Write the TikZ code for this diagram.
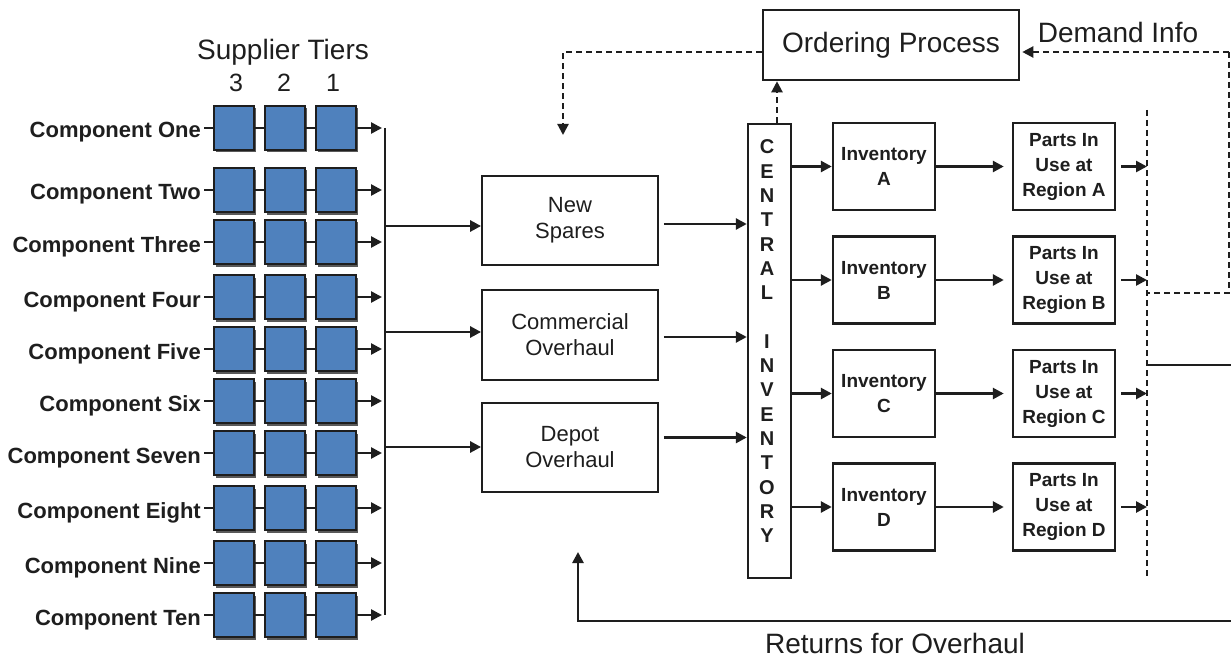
\documentclass[tikz,border=0pt]{standalone}
\usepackage{fontspec}
\setmainfont{Liberation Sans}
\usetikzlibrary{arrows.meta,shadows}
\definecolor{tierblue}{HTML}{4F81BD}
\definecolor{ink}{HTML}{1E1E1E}
\begin{document}
\begin{tikzpicture}[x=1bp,y=-1bp,
  tier/.style={draw=ink, line width=1.4bp, fill=tierblue, minimum width=40bp, minimum height=44bp, inner sep=0pt,
    drop shadow={shadow xshift=2bp, shadow yshift=-2.5bp, fill=black!65, opacity=1}},
  thinwire/.style={draw=ink, line width=2.2bp},
  wire/.style={draw=ink, line width=2.6bp},
  arr/.style={wire, -{Triangle[length=11bp,width=11bp]}},
  dashline/.style={draw=ink, line width=2.2bp, dash pattern=on 6bp off 4bp},
  darr/.style={dashline, -{Triangle[length=11bp,width=11bp]}},
  lab/.style={text=ink, inner sep=0pt, font=\fontsize{22bp}{26bp}\selectfont\bfseries},
  flowbox/.style={draw=ink, line width=1.8bp, align=center, inner sep=0pt, text=ink,
    minimum width=176bp, minimum height=89bp, font=\fontsize{22bp}{26bp}\selectfont},
  invbox/.style={draw=ink, line width=2.4bp, align=center, inner sep=0pt, text=ink,
    minimum width=102bp, minimum height=87bp, font=\fontsize{19bp}{25bp}\selectfont\bfseries},
  cletter/.style={text=ink, inner sep=0pt, font=\fontsize{20bp}{22bp}\selectfont\bfseries},
  big/.style={text=ink, inner sep=0pt, font=\fontsize{28bp}{32bp}\selectfont}
]
\useasboundingbox (0,0) rectangle (1231,658);
\fill[white] (0,0) rectangle (1231,658);

% Supplier tiers heading
\node[big, anchor=base] (tiers) at (283,60) {Supplier Tiers};
\node[big, anchor=base, font=\fontsize{25bp}{28bp}\selectfont] (t3) at (236,92) {3};
\node[big, anchor=base, font=\fontsize{25bp}{28bp}\selectfont] (t2) at (284,92) {2};
\node[big, anchor=base, font=\fontsize{25bp}{28bp}\selectfont] (t1) at (333,92) {1};

% component rows
\foreach \name/\y [count=\i] in {One/128, Two/190, Three/242, Four/297, Five/349, Six/401, Seven/453, Eight/508, Nine/563, Ten/615}{
  \node[tier] (a\i) at (234,\y) {};
  \node[tier] (b\i) at (285,\y) {};
  \node[tier] (c\i) at (336,\y) {};
  \node[lab, anchor=base east] (l\i) at (201,\y+10) {Component \name};
  \coordinate (bus\i) at (385,\y);
  \draw[thinwire] (a\i.west) -- ++(-9,0);
  \draw[thinwire] (a\i) -- (b\i);
  \draw[thinwire] (b\i) -- (c\i);
  \draw[arr, shorten >=3bp] (c\i) -- (bus\i);
}
\draw[wire] (bus1) -- (bus10);

% source boxes
\node[flowbox] (ns) at (570,220.5) {New\\Spares};
\node[flowbox, minimum height=90bp] (co) at (570,335) {Commercial\\Overhaul};
\node[flowbox] (dp) at (570,447.5) {Depot\\Overhaul};

\coordinate (jn) at (385,226);
\coordinate (jc) at (385,332);
\coordinate (jd) at (385,447);
\draw[arr] (jn) -- (jn -| ns.west);
\draw[arr] (jc) -- (jc -| co.west);
\draw[arr] (jd) -- (jd -| dp.west);

% central inventory
\node[draw=ink, line width=2.4bp, minimum width=43bp, minimum height=454bp, inner sep=0pt] (ci) at (769.5,351) {};
\foreach \ch [count=\k from 0] in {C,E,N,T,R,A,L}
  \node[cletter] (ca\k) at (767,147+24.3*\k) {\ch};
\foreach \ch [count=\k from 8] in {I,N,V,E,N,T,O,R,Y}
  \node[cletter] (cb\k) at (767,147+24.3*\k) {\ch};

\draw[arr, shorten <=5bp] ([yshift=-3.5bp]ns.east) -- ([yshift=-3.5bp]ns.east -| ci.west);
\draw[arr, shorten <=5bp] ([yshift=-2bp]co.east) -- ([yshift=-2bp]co.east -| ci.west);
\draw[arr, shorten <=5bp] ([yshift=10bp]dp.east) -- ([yshift=10bp]dp.east -| ci.west);

% ordering process
\node[draw=ink, line width=2.6bp, minimum width=256bp, minimum height=70bp, inner sep=0pt, big] (op) at (891,45) {Ordering Process};
\node[big, anchor=base] (di) at (1118,43) {Demand Info};

\coordinate (dtarget) at (563,135);
\draw[darr] ([yshift=-7bp]op.west) -| (dtarget);
\draw[darr] ([xshift=7.5bp]ci.north) -- ([xshift=7.5bp]ci.north |- op.south);

% regional inventories and parts
\foreach \r/\y in {A/166.5, B/280, C/393.5, D/507}{
  \node[invbox] (inv\r) at (884,\y) {Inventory\\\r};
  \node[invbox] (p\r) at (1064,\y) {Parts In\\Use at\\Region \r};
  \draw[arr] (inv\r.west -| ci.east) -- (inv\r.west);
  \draw[arr, shorten >=8bp] (inv\r) -- (p\r);
}

% dashed collection lines
\coordinate (vt) at (1147,110);
\coordinate (vb) at (1147,578);
\draw[dashline] (vt) -- (vb);
\foreach \r in {A,B,C,D}
  \draw[arr, shorten <=5bp] (p\r.east) -- (p\r.east -| vt);

\coordinate (dR) at (1229,52);
\coordinate (dRb) at (1229,293);
\coordinate (dLb) at (1147,293);
\draw[darr, shorten >=2bp] (dR) -- (dR -| op.east);
\draw[dashline] (dR) -- (dRb) -- (dLb);

% returns
\coordinate (rs) at (1147,365);
\coordinate (re) at (1231,365);
\draw[wire] (rs) -- (re);
\coordinate (rb) at (1231,621);
\coordinate (rt) at (578,552);
\draw[arr] (rb) -| (rt);
\node[big, anchor=base] (ret) at (895,653) {Returns for Overhaul};
\end{tikzpicture}
\end{document}
